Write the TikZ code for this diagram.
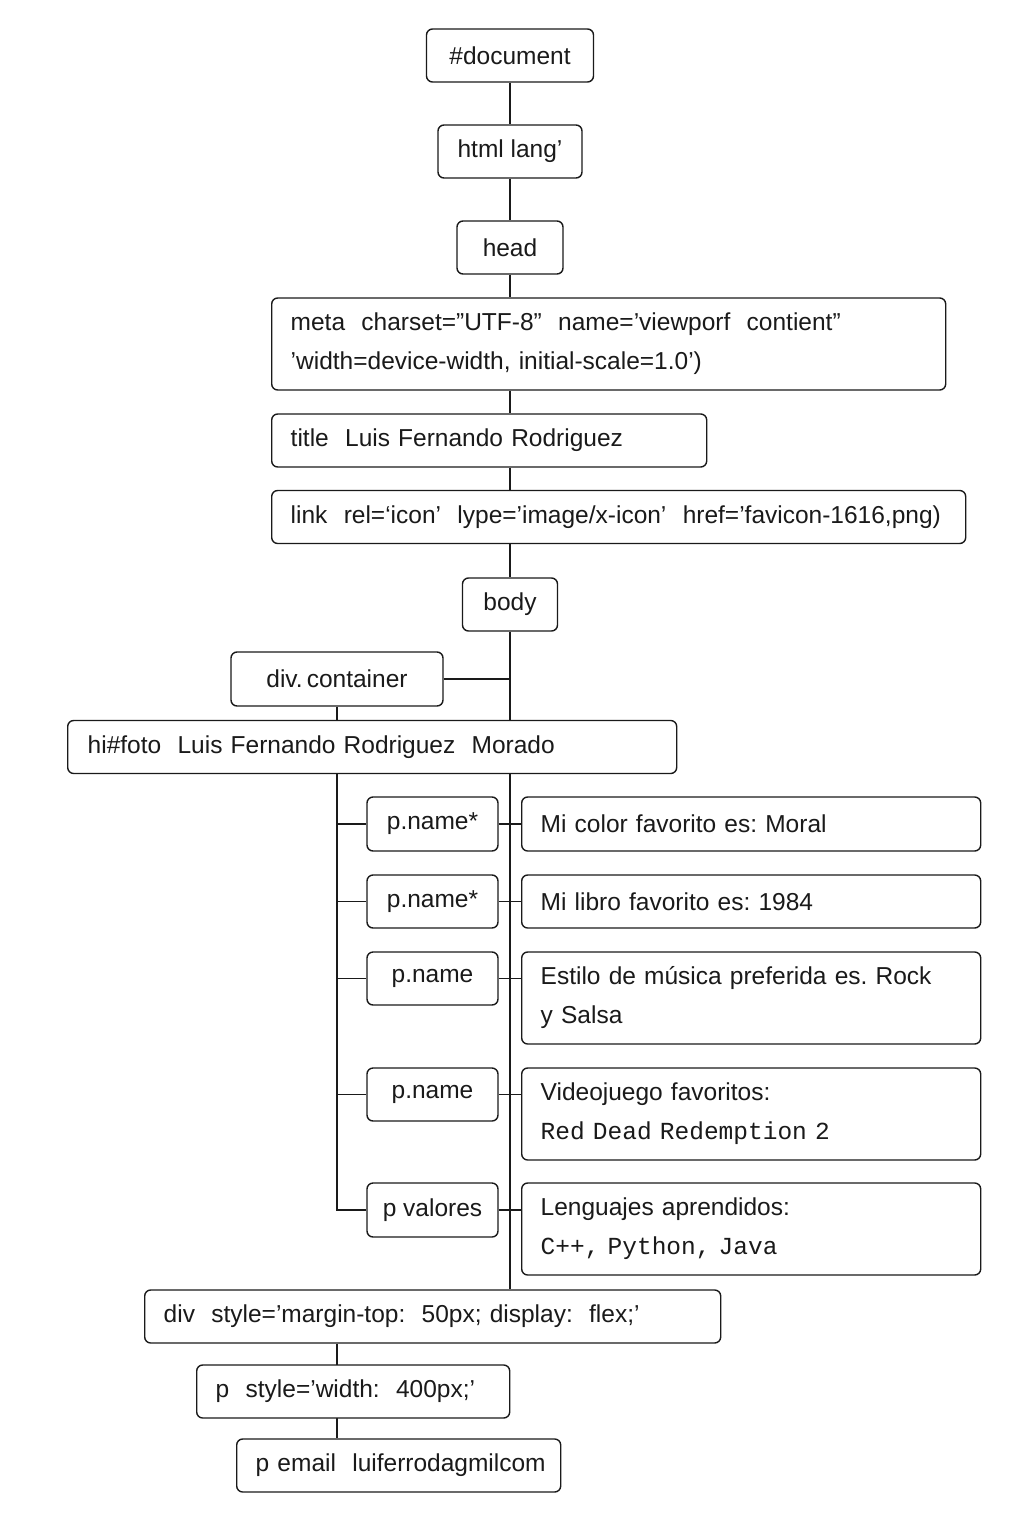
\documentclass[tikz,border=0pt]{standalone}
\usepackage{fontspec}
\setmainfont{Liberation Sans}
\setmonofont{Liberation Mono}
\usetikzlibrary{
  positioning,
  backgrounds,
}
\definecolor{ink}{HTML}{1A1A1A}
\tikzset{
  every node/.style={
    font=\fontsize{24.5}{39}\selectfont\frenchspacing,
    text=ink,
  },
  tag/.style={
    rectangle, rounded corners=6pt,
    draw=ink, line width=1.4pt,
    fill=white,
    minimum height=53pt, inner sep=0pt,
  },
  row/.style={
    tag, anchor=west, align=left,
    inner xsep=19pt, text width=#1,
  },
  wire/.style={
    draw=ink, line width=1.4pt,
  },
}

\begin{document}
\begin{tikzpicture}[x=1pt, y=-1pt]
\useasboundingbox (0,0) rectangle (1024,1536);

% ----- document / html / head, trunk at x=510 -----
\node[tag, minimum width=167pt] (doc)  at (510, 55.5)  {\#document};
\node[tag, minimum width=144pt] (html) at (510, 151.5) {html~lang’};
\node[tag, minimum width=106pt] (head) at (510, 247.5) {head};

\node[row=636pt, minimum height=92pt] (meta) at (271, 344)
  {meta~~charset="UTF-8"~~name='viewporf~~contient''\\'width=device-width, initial-scale=1.0')};
\node[row=397pt] (title)   at (271, 440.5) {title~~Luis Fernando Rodriguez};
\node[row=656pt] (linktag) at (271, 517)
  {link~~rel=‘icon’~~lype='image/x-icon'~~href='favicon-1616,png)};

% ----- body -----
\node[tag, minimum width=95pt] (body) at (510, 604.5) {body};

\node[tag, minimum width=212pt, minimum height=54pt] (divc) at (337, 679) {div.\,container};
\node[row=569pt, inner xsep=20pt] (hone) at (67, 747) {hi\#foto~~Luis Fernando Rodriguez~~Morado};

% p elements (left) and their texts (right)
\node[tag, minimum width=131pt, minimum height=54pt] (pa) at (432.5, 824)  {p.name*};
\node[tag, minimum width=131pt]                      (pb) at (432.5, 901.5) {p.name*};
\node[tag, minimum width=131pt]                      (pc) at (432.5, 978.5) {p.name};
\node[tag, minimum width=131pt]                      (pd) at (432.5, 1094.5) {p.name};
\node[tag, minimum width=131pt, minimum height=54pt] (pe) at (432.5, 1210) {p valores};

\node[row=421pt, minimum height=54pt] (ca) at (521, 824)   {Mi color favorito es: Moral};
\node[row=421pt]                      (cb) at (521, 901.5) {Mi libro favorito es: 1984};
\node[row=421pt, minimum height=92pt] (cc) at (521, 998)   {Estilo de música preferida es. Rock\\y Salsa};
\node[row=421pt, minimum height=92pt] (cd) at (521, 1114)  {Videojuego favoritos:\\\texttt{Red Dead Redemption 2}};
\node[row=421pt, minimum height=92pt] (ce) at (521, 1229)  {Lenguajes aprendidos:\\\texttt{C++, Python, Java}};

% ----- div style / p / email -----
\node[row=538pt] (divs)   at (144, 1316.5) {div~~style='margin-top:~~50px; display:~~flex;'};
\node[row=275pt] (pstyle) at (196, 1391.5) {p~~style='width:~~400px;'};
\node[row=286pt] (pmail)  at (236, 1465.5) {\mbox{p email~~luiferrodagmilcom}};

% connectors behind the boxes
\begin{scope}[on background layer]
  \draw[wire] (doc) -- (html);
  \draw[wire] (html) -- (head);
  \draw[wire] (head.south) -- (head.south |- meta.north);
  \draw[wire] (meta.south -| head.south) -- (title.north -| head.south);
  \draw[wire] (title.south -| head.south) -- (linktag.north -| head.south);
  \draw[wire] (linktag.south -| body.north) -- (body.north);
  \draw[wire] (body.south) -- (body.south |- divs.north);
  \draw[wire] (divc.east) -- (divc.east -| body.south);
  \draw[wire] (divc.south) -- (divc.south |- pe.west) -- (pe.west);
  \foreach \p/\c in {pa/ca, pb/cb, pc/cc, pd/cd, pe/ce} {
    \draw[wire] (divc.south |- \p.west) -- (\p.west);
    \draw[wire] (\p.east) -- (\p.east -| \c.west);
  }
  \draw[wire] (divs.south -| divc.south) -- (pmail.north -| divc.south);
\end{scope}

\end{tikzpicture}
\end{document}
